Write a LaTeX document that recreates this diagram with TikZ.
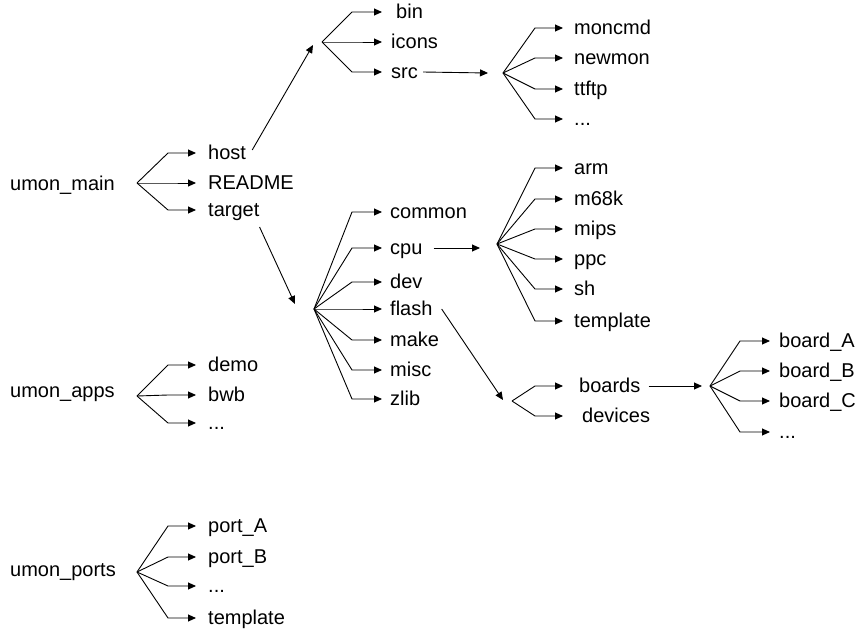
\documentclass[tikz,border=0pt]{standalone}
\usepackage{fontspec}
\setmainfont{Liberation Sans}
\usetikzlibrary{arrows.meta}
\begin{document}
\begin{tikzpicture}[x=1pt,y=-1pt,
  leaf/.style={anchor=west, inner sep=0pt, text height=15pt, text depth=3pt,
               font=\fontsize{20}{24}\selectfont},
  arr/.style={line width=0.9pt, -{Triangle[length=8pt,width=7pt]}}]
\useasboundingbox (0,0) rectangle (859,629);

% ---------- umon_main ----------
\node[leaf] (main) at (10,184) {umon\_main};
\coordinate (F1) at (137,183);
\coordinate (F1b) at (168,0);
\coordinate (F1t) at (196,0);
\node[leaf] (host)   at (208,153) {host};
\node[leaf] (readme) at (208,183) {README};
\node[leaf] (target) at (208,210) {target};
\foreach \n in {host,readme,target}
  \draw[arr] (F1) -- (\n.west -| F1b) -- (\n.west -| F1t);

% host subtree
\coordinate (F2) at (322,42);
\coordinate (F2b) at (352,0);
\coordinate (F2t) at (382,0);
\node[leaf] (bin)   at (396,12) {bin};
\node[leaf] (icons) at (391,42) {icons};
\node[leaf] (src)   at (391,72) {src};
\foreach \n in {bin,icons,src}
  \draw[arr] (F2) -- (\n.west -| F2b) -- (\n.west -| F2t);
\draw[arr] ([shift={(6,-3)}]host.east) -- ([shift={(-9,3)}]F2);

% src subtree
\coordinate (F3) at (503,73);
\coordinate (F3b) at (535,0);
\coordinate (F3t) at (563,0);
\node[leaf] (moncmd) at (574,28) {moncmd};
\node[leaf] (newmon) at (574,58) {newmon};
\node[leaf] (ttftp)  at (574,89) {ttftp};
\node[leaf] (srcmore) at (574,119) {...};
\foreach \n in {moncmd,newmon,ttftp,srcmore}
  \draw[arr] (F3) -- (\n.west -| F3b) -- (\n.west -| F3t);
\draw[arr] ([xshift=5]src.east) -- ([xshift=-15]F3);

% target subtree
\coordinate (F4) at (314,309);
\coordinate (F4b) at (352,0);
\coordinate (F4t) at (382,0);
\node[leaf] (common) at (390,212) {common};
\node[leaf] (cpu)    at (390,248) {cpu};
\node[leaf] (dev)    at (390,282) {dev};
\node[leaf] (flash)  at (390,309) {flash};
\node[leaf] (make)   at (390,340) {make};
\node[leaf] (misc)   at (390,370) {misc};
\node[leaf] (zlib)   at (390,399) {zlib};
\foreach \n in {common,cpu,dev,flash,make,misc,zlib}
  \draw[arr] (F4) -- (\n.west -| F4b) -- (\n.west -| F4t);
\draw[arr] ([shift={(0,17)}]target.east) -- ([shift={(-19,-5)}]F4);

% cpu subtree
\coordinate (F5) at (497,244);
\coordinate (F5b) at (535,0);
\coordinate (F5t) at (563,0);
\node[leaf] (arm)   at (574,168) {arm};
\node[leaf] (m68k)  at (574,199) {m68k};
\node[leaf] (mips)  at (574,229) {mips};
\node[leaf] (ppc)   at (574,259) {ppc};
\node[leaf] (sh)    at (574,289) {sh};
\node[leaf] (cputpl) at (574,321) {template};
\foreach \n in {arm,m68k,mips,ppc,sh,cputpl}
  \draw[arr] (F5) -- (\n.west -| F5b) -- (\n.west -| F5t);
\draw[arr] ([xshift=11]cpu.east) -- ([shift={(-17,4)}]F5);

% flash subtree
\coordinate (F6) at (512,401);
\coordinate (F6b) at (535,0);
\coordinate (F6t) at (563,0);
\node[leaf] (boards)  at (579,386) {boards};
\node[leaf] (devices) at (582,416) {devices};
\foreach \n in {boards,devices}
  \draw[arr] (F6) -- (\n.west -| F6b) -- (\n.west -| F6t);
\draw[arr] ([xshift=9]flash.east) -- ([shift={(-9,-1)}]F6);

% boards subtree
\coordinate (F7) at (710,386);
\coordinate (F7b) at (740,0);
\coordinate (F7t) at (770,0);
\node[leaf] (boardA) at (779,341) {board\_A};
\node[leaf] (boardB) at (779,371) {board\_B};
\node[leaf] (boardC) at (779,401) {board\_C};
\node[leaf] (boardmore) at (779,432) {...};
\foreach \n in {boardA,boardB,boardC,boardmore}
  \draw[arr] (F7) -- (\n.west -| F7b) -- (\n.west -| F7t);
\draw[arr] ([xshift=8]boards.east) -- ([xshift=-8]F7);

% ---------- umon_apps ----------
\node[leaf] (apps) at (10,391) {umon\_apps};
\coordinate (F8) at (137,396);
\coordinate (F8b) at (168,0);
\coordinate (F8t) at (196,0);
\node[leaf] (demo) at (208,365) {demo};
\node[leaf] (bwb)  at (208,395) {bwb};
\node[leaf] (appsmore) at (208,423) {...};
\foreach \n in {demo,bwb,appsmore}
  \draw[arr] (F8) -- (\n.west -| F8b) -- (\n.west -| F8t);

% ---------- umon_ports ----------
\node[leaf] (ports) at (10,570) {umon\_ports};
\coordinate (F9) at (137,572);
\coordinate (F9b) at (168,0);
\coordinate (F9t) at (196,0);
\node[leaf] (portA) at (208,526) {port\_A};
\node[leaf] (portB) at (208,557) {port\_B};
\node[leaf] (portsmore) at (208,586) {...};
\node[leaf] (porttpl) at (208,618) {template};
\foreach \n in {portA,portB,portsmore,porttpl}
  \draw[arr] (F9) -- (\n.west -| F9b) -- (\n.west -| F9t);
\end{tikzpicture}
\end{document}
